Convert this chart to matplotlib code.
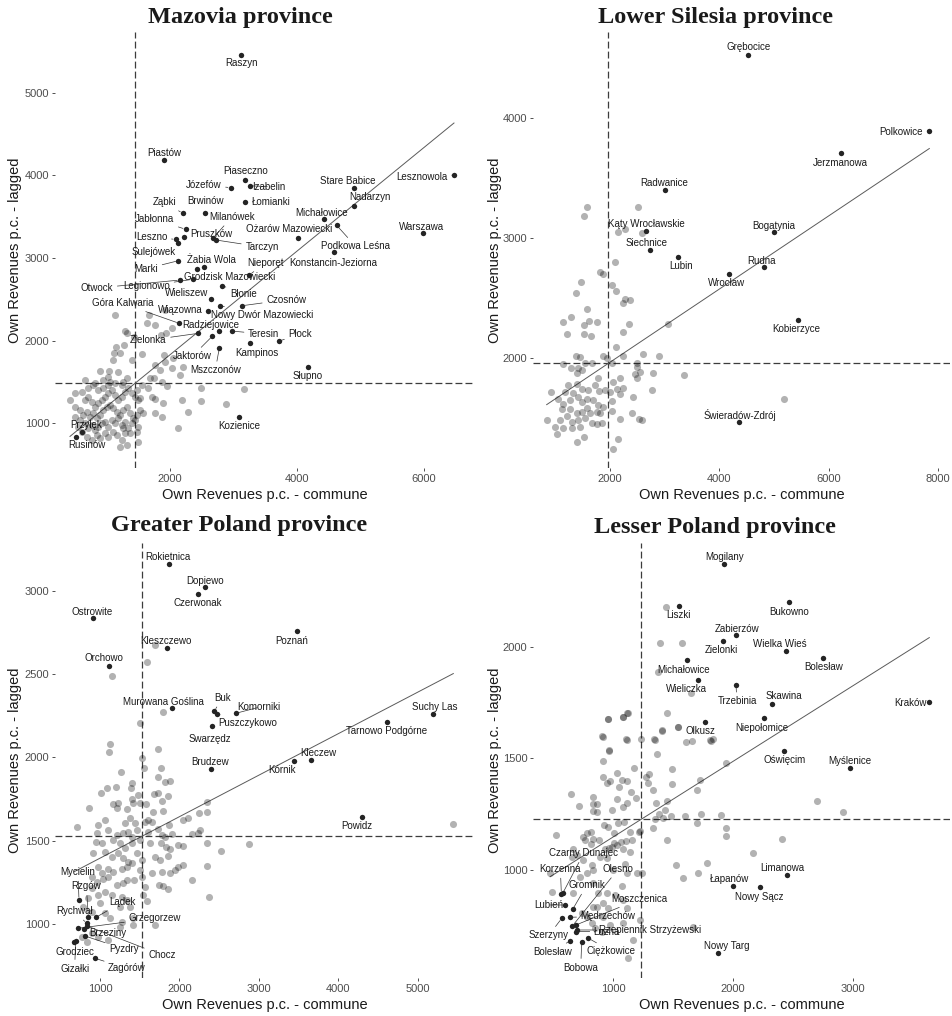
"""Four-panel scatter: own revenues p.c. (commune) vs spatially lagged, by province."""

import matplotlib

matplotlib.use("Agg")

import matplotlib.pyplot as plt
import numpy as np

plt.rcParams["font.family"] = ["Liberation Sans", "DejaVu Sans"]

# ---------------------------------------------------------------- Mazovia
maz_names = ["Raszyn", "Piastów", "Piaseczno", "Józefów", "Izabelin", "Łomianki",
             "Stare Babice", "Lesznowola", "Nadarzyn", "Ząbki", "Brwinów", "Milanówek",
             "Michałowice", "Warszawa", "Jabłonna", "Pruszków", "Ożarów Mazowiecki",
             "Podkowa Leśna", "Tarczyn", "Leszno", "Sulejówek", "Konstancin-Jeziorna",
             "Żabia Wola", "Marki", "Nieporęt", "Grodzisk Mazowiecki", "Legionowo",
             "Otwock", "Błonie", "Wieliszew", "Czosnów", "Nowy Dwór Mazowiecki",
             "Wiązowna", "Góra Kalwaria", "Radziejowice", "Zielonka", "Teresin",
             "Jaktorów", "Mszczonów", "Kampinos", "Płock", "Słupno", "Kozienice",
             "Przyłęk", "Rusinów"]
maz_x = [3123, 1910, 3181, 2956, 3255, 3186, 4898, 6473, 4898, 2200, 2546, 2677,
         4426, 5980, 2247, 2225, 4011, 4625, 2725, 2090, 2131, 4583, 2536, 2131,
         3249, 2420, 2357, 2157, 2824, 2650, 3139, 2788, 2603, 2146, 2776, 2446,
         2972, 2669, 2776, 3260, 3721, 4178, 3087, 609, 515]
maz_y = [5460, 4184, 3945, 3852, 3876, 3679, 3845, 4006, 3630, 3542, 3542, 3242,
         3472, 3306, 3348, 3258, 3239, 3396, 3218, 3226, 3178, 3076, 2894, 2967,
         2794, 2863, 2742, 2733, 2664, 2503, 2422, 2422, 2361, 2208, 2115, 2087,
         2115, 2054, 1905, 1973, 1994, 1682, 1076, 895, 827]
maz_gray_x = [1134, 1292, 1318, 1433, 1675, 1922, 1764, 1859, 1937, 2027, 1643, 1281,
              1145, 1124, 1213, 1108, 1397, 1565, 1906, 1927, 2053, 1764, 1843, 2037,
              2210, 2158, 898, 1045, 1019, 1176, 1265, 1318, 662, 793, 950, 1055, 1685,
              1754, 1869, 1948, 2489, 3171, 2877, 2489, 2184, 2279, 2132, 1895, 1869,
              1764, 1580, 1712, 1764, 1528, 1475, 1565, 1659,
              504, 583, 662, 714, 767, 819, 872, 924, 977, 1029, 1082, 1134, 1187, 1239,
              1292, 1344, 1397, 1449, 1502, 504, 583, 635, 688, 740, 793, 845, 898, 950,
              1003, 1055, 1108, 1160, 1213, 1265, 1318, 1370, 1423, 1475, 1528,
              557, 609, 662, 714, 767, 819, 872, 924, 977, 1029, 1082, 1134, 1187, 1239,
              1292, 1344, 1397, 1449, 1502, 688, 767, 845, 898, 977, 1029, 1108, 1160,
              1239, 1292, 1213, 1318, 1265, 1370, 1502, 1475, 714, 872, 950, 1134, 1239,
              1029, 819, 609, 504, 425]
maz_gray_y = [2309, 2119, 2087, 2047, 2309, 2370, 2188, 2067, 2087, 2148, 2216, 1946,
              1925, 1845, 1845, 1764, 1764, 1837, 1824, 1744, 1784, 1703, 1643, 1663,
              1683, 1582, 1635, 1635, 1554, 1622, 1501, 1542, 1521, 1461, 1521, 1501, 1542,
              1542, 1501, 1449, 1420, 1408, 1231, 1271, 1279, 1138, 944, 1247, 1077,
              1117, 1117, 1319, 1291, 1299, 1400, 1461, 1420,
              1198, 1158, 1279, 1319, 1259, 1198, 1239, 1279, 1319, 1360, 1400, 1340, 1279,
              1319, 1380, 1420, 1360, 1319, 1279, 1077, 1037, 1097, 1138, 1077, 1117, 1057,
              1097, 1158, 1198, 1218, 1178, 1138, 1097, 1158, 1198, 1117, 1057, 1097, 1158,
              956, 895, 996, 936, 976, 915, 956, 996, 1016, 956, 1037, 996, 1057, 976,
              1016, 936, 996, 1037, 956, 835, 794, 855, 814, 875, 835, 895, 855,
              794, 875, 713, 734, 936, 875, 774, 895, 1420, 1400, 1420, 1481, 1461,
              1461, 1481, 1380, 1360, 1279]
maz_mean = (1449, 1481)
maz_fit = (0.628, 571)
maz_xticks = [2000, 4000, 6000]
maz_yticks = [1000, 2000, 3000, 4000, 5000]
maz_lim = ((189, 6804), (455, 5739))

# ---------------------------------------------------------- Lower Silesia
dol_names = ["Grębocice", "Polkowice", "Jerzmanowa", "Radwanice", "Kąty Wrocławskie",
             "Bogatynia", "Siechnice", "Lubin", "Rudna", "Wrocław", "Kobierzyce",
             "Świeradów-Zdrój"]
dol_x = [4528, 7837, 6217, 3011, 2658, 4998, 2731, 3249, 4821, 4181, 5431, 4364]
dol_y = [4527, 3896, 3713, 3402, 3060, 3055, 2902, 2847, 2764, 2703, 2319, 1467]
dol_gray_x = [1573, 1524, 2505, 2152, 2274, 2578, 2091, 1817, 1865, 1469, 1378, 2030,
              2109, 2274, 2365, 2243, 1573, 1281, 1147, 1530, 1616, 1756, 2353, 3066,
              1220, 1524, 1646, 2243, 2109, 1372, 1451, 1878, 1939, 2231, 2609, 2901,
              1147, 1281, 1421, 1543, 1664, 2030, 2487, 2487, 2792, 3358, 1402, 1482,
              2182, 2457, 2548, 2487, 2060, 1786, 1725, 1603, 1805, 1908, 2000, 2121,
              2243, 2030, 2182, 1390, 1482, 1238, 1177, 915, 1055, 1147, 1268, 1329,
              1421, 1482, 1573, 1695, 1786, 1878, 1116, 1268, 1390, 1482, 1573, 1634,
              1756, 1817, 1086, 1207, 1299, 1421, 1543, 1664, 1756, 1847, 2030, 2182,
              2396, 2536, 2761, 2426, 842, 994, 1147, 1299, 1451,
              1037, 1391, 1530, 2049, 2152, 2579, 5186]
dol_gray_y = [3258, 3186, 3258, 3055, 3075, 3041, 2805, 2722, 2703, 2633, 2541, 2611,
              2564, 2491, 2486, 2464, 2408, 2341, 2305, 2278, 2314, 2300, 2286, 2286,
              2203, 2203, 2186, 2222, 2097, 2019, 2014, 2019, 2000, 2019, 2036, 2019,
              1950, 1917, 1917, 1958, 1964, 1964, 1958, 1931, 1881, 1861, 1881, 1903,
              1833, 1869, 1889, 1833, 1806, 1833, 1778, 1736, 1731, 1736, 1722, 1742,
              1756, 1647, 1703, 1786, 1742, 1778, 1722, 1722, 1658, 1620, 1653, 1708,
              1681, 1639, 1658, 1653, 1611, 1597, 1575, 1575, 1547, 1556, 1583, 1542,
              1556, 1542, 1486, 1520, 1472, 1486, 1500, 1458, 1453, 1458, 1564, 1492,
              1542, 1492, 1736, 1681, 1486, 1431, 1417, 1417, 1425,
              1369, 1305, 1347, 1247, 1325, 1486, 1658]
dol_mean = (1969, 1958)
dol_fit = (0.305, 1357)
dol_xticks = [2000, 4000, 6000, 8000]
dol_yticks = [2000, 3000, 4000]
dol_lim = ((592, 8215), (1086, 4718))

# ---------------------------------------------------------- Greater Poland
wlkp_names = ["Rokietnica", "Dopiewo", "Czerwonak", "Ostrowite", "Poznań", "Kleszczewo",
              "Orchowo", "Murowana Goślina", "Buk", "Komorniki", "Puszczykowo",
              "Swarzędz", "Brudzew", "Kórnik", "Kleczew", "Suchy Las",
              "Tarnowo Podgórne", "Powidz", "Mycielin", "Rzgów", "Lądek", "Rychwał",
              "Grzegorzew", "Brzeziny", "Pyzdry", "Chocz", "Grodziec", "Gizałki",
              "Zagórów"]
wlkp_x = [1873, 2322, 2238, 916, 3476, 1840, 1117, 1910, 2439, 2708, 2477, 2414, 2393,
          3446, 3656, 5196, 4617, 4295, 735, 853, 949, 832, 718, 802, 811, 836, 676,
          693, 937]
wlkp_y = [3160, 3020, 2980, 2834, 2758, 2654, 2550, 2294, 2278, 2264, 2260, 2190, 1928,
          1980, 1984, 2260, 2214, 1640, 1144, 1040, 1040, 1004, 974, 968, 928, 988, 894,
          900, 794]
wlkp_gray_x = [1587, 1147, 1789, 1503, 1126, 1113, 1726, 1524, 1558, 1768, 1734, 1818,
               1881, 1264, 1084, 1012, 1201, 1407, 1482, 1390, 1680, 1726, 1776, 1852,
               1503, 1407, 1419, 1167, 1230, 1209, 861, 1335, 1575, 1671, 1789, 2343,
               2246, 2351, 2049, 2103, 1868, 1650, 1608, 1566, 1440, 1377, 1314, 1063,
               979, 706, 958, 1105, 1209, 1293, 1356, 1461, 1398, 1608, 1734, 1776, 1818,
               1902, 2162, 2229, 2259, 945, 1021, 1167, 1251, 1314, 1407, 1503, 1629,
               1768, 1831, 1881, 1986, 2049, 2343, 2523, 2876, 916, 1063, 1147, 1230,
               1293, 1356, 1461, 1524, 1692, 1755, 1860, 1986, 2049, 2343, 979, 1021,
               1105, 1167, 1272, 1335, 1398, 1503, 1650, 1776, 1881, 1944, 2162, 895,
               958, 1042, 1105, 1209, 1293, 1335, 1432, 1533, 1566, 1742, 1797, 1860,
               2372, 895, 979, 1063, 1147, 1272, 1335, 1251, 1377, 1545, 1587, 1000, 853,
               790, 895, 1063, 1126, 1272, 1419, 1419, 1251, 1692, 895, 979, 1105, 832,
               769, 1692, 5448]
wlkp_gray_y = [2574, 2488, 2274, 2208, 2080, 2030, 2048, 1994, 1934, 1934, 1884, 1854,
               1860, 1914, 1818, 1788, 1820, 1844, 1774, 1814, 1780, 1784, 1740, 1768,
               1728, 1748, 1728, 1720, 1724, 1694, 1698, 1688, 1720, 1674, 1680, 1734,
               1668, 1674, 1624, 1634, 1594, 1614, 1624, 1614, 1604, 1634, 1604, 1624,
               1594, 1584, 1548, 1564, 1534, 1544, 1554, 1564, 1524, 1554, 1568, 1534,
               1520, 1540, 1538, 1548, 1564, 1494, 1488, 1504, 1484, 1454, 1488, 1504,
               1484, 1484, 1464, 1448, 1474, 1468, 1488, 1440, 1480, 1424, 1434, 1404,
               1424, 1394, 1374, 1424, 1384, 1404, 1384, 1408, 1344, 1354, 1348, 1344,
               1304, 1328, 1314, 1328, 1344, 1364, 1324, 1308, 1314, 1304, 1324, 1264,
               1284, 1254, 1268, 1280, 1234, 1244, 1264, 1264, 1280, 1224, 1234, 1228,
               1208, 1164, 1214, 1174, 1194, 1174, 1164, 1144, 1104, 1104, 1174, 1140,
               1124, 1154, 1104, 1074, 1064, 1034, 1014, 1034, 994, 984, 994, 944, 924,
               904, 894, 924, 2674, 1598]
wlkp_mean = (1533, 1528)
wlkp_fit = (0.249, 1146)
wlkp_xticks = [1000, 2000, 3000, 4000, 5000]
wlkp_yticks = [1000, 1500, 2000, 2500, 3000]
wlkp_lim = ((433, 5721), (676, 3286))

# ----------------------------------------------------------- Lesser Poland
mlp_names = ["Mogilany", "Liszki", "Bukowno", "Zabierzów", "Zielonki", "Wielka Wieś",
             "Bolesław", "Kraków", "Michałowice", "Wieliczka", "Trzebinia", "Skawina",
             "Olkusz", "Niepołomice", "Oświęcim", "Myślenice", "Limanowa", "Łapanów",
             "Nowy Sącz", "Nowy Targ", "Czarny Dunajec", "Korzenna", "Olesno", "Gromnik",
             "Lubień", "Moszczenica", "Mędrzechów", "Szerzyny", "Łużna",
             "Rzepiennik Strzyżewski", "Bolesław", "Ciężkowice", "Bobowa"]
mlp_x = [1927, 1546, 2470, 2025, 1919, 2445, 2749, 3640, 1618, 1710, 2025, 2328, 1769,
         2261, 2429, 2977, 2454, 1998, 2223, 1878, 577, 566, 658, 661, 597, 686, 639,
         569, 689, 694, 639, 792, 736]
mlp_y = [2369, 2181, 2199, 2054, 2027, 1981, 1951, 1754, 1942, 1851, 1827, 1742, 1664,
         1681, 1534, 1458, 977, 930, 925, 627, 895, 892, 749, 824, 843, 753, 788, 783,
         724, 731, 683, 694, 679]
mlp_gray_x = [519, 644, 717, 750, 778, 814, 834, 828, 867, 828, 867, 926, 959, 1006,
              1042, 1090, 1140, 1224, 987, 1034, 1084, 1118, 1148, 1190, 917, 945, 973,
              1029, 1070, 1112, 1051, 912, 965, 912, 959, 1084, 1118, 1173, 1112, 1405,
              1544, 1605, 1655, 1814, 1836, 1235, 1349, 1363, 1274, 1299, 1293, 1335,
              1491, 1491, 1357, 1452, 1435, 1385, 1352, 1329, 1418, 1483, 1599, 1697,
              1730, 1897, 1939, 1939, 1452, 1218, 1154, 1107, 1062, 1006, 967, 931, 884,
              834, 811, 764, 667, 653, 700, 750, 820, 834, 889, 945, 987, 1029, 1084,
              1140, 995, 1070, 1098, 1201, 1237, 1524, 1580, 1708, 1781, 2170, 2407,
              1118, 485, 472, 667, 722, 778, 834, 875, 945, 1015, 917, 834, 861, 959,
              1084, 1112, 1224, 1168, 1126, 1664, 917, 778, 736, 820, 1084, 848, 903,
              973, 1440, 1390, 1576, 1376, 1649, 958, 1084, 1120, 1446, 1404, 1543, 908,
              1106, 1343, 1806, 964, 1939, 1696, 1724, 2699, 2922]
mlp_gray_y = [1157, 1340, 1288, 1149, 1164, 1172, 1328, 1295, 1295, 1266, 1261, 1201,
              1191, 1167, 1212, 1216, 1172, 1176, 1269, 1316, 1284, 1301, 1351, 1321,
              1415, 1388, 1400, 1433, 1403, 1400, 1370, 1487, 1534, 1597, 1675, 1684,
              1702, 1455, 1582, 1624, 1642, 1575, 1578, 1579, 1587, 1585, 1582, 1518,
              1415, 1430, 1391, 1358, 1454, 1385, 1298, 1307, 1269, 1251, 1227, 1186,
              1231, 1242, 1242, 1212, 1251, 1246, 1186, 1152, 1134, 1172, 1134, 1131,
              1127, 1119, 1097, 1092, 1134, 1137, 1116, 1134, 1092, 1060, 1067, 1045,
              1022, 1000, 1060, 1052, 1104, 1112, 1092, 1082, 1000, 928, 1027, 985, 988,
              1021, 966, 988, 1033, 1074, 1140, 985, 903, 985, 895, 970, 985, 940, 895,
              895, 888, 851, 836, 836, 828, 866, 828, 776, 686, 604, 746, 791, 791, 806,
              761, 761, 739, 724, 753, 2179, 2015, 2015, 1885, 1791, 1676, 1686, 1704,
              1704, 1627, 1642, 1600, 1585, 1585, 1580, 1537, 1478, 1358, 1403, 1309,
              1261]
mlp_mean = (1234, 1227)
mlp_fit = (0.338, 810)
mlp_xticks = [1000, 2000, 3000]
mlp_yticks = [1000, 1500, 2000]
mlp_lim = ((329, 3813), (516, 2464))

# label offsets in pixels (dx right, dy up) from each labelled commune
maz_offsets = [(0, -8), (0, 7), (1, 9), (-27, 3), (19, -1), (26, 0), (-6, 7), (-32, -2),
               (16, 9), (-18, 11), (1, 12), (19, 21), (-2, 6), (-1, 6), (-31, 10), (27, 3),
               (-9, 9), (19, -21), (46, -7), (-24, 2), (-25, -9), (-1, -11), (7, 7),
               (-32, -8), (16, 12), (33, -8), (-46, -7), (-83, -8), (21, -8), (-25, 6),
               (44, 6), (42, -9), (-28, 1), (-57, 20), (-9, 6), (-50, -7), (32, -3),
               (-20, -20), (-4, -22), (7, -10), (21, 7), (-1, -9), (0, -9), (4, 7),
               (11, -8)]
dol_offsets = [(0, 8), (-28, -1), (0, -10), (-1, 7), (0, 7), (0, 6), (-3, 7), (3, -9),
               (-3, 6), (-3, -9), (-1, -9), (1, 7)]
wlkp_offsets = [(-1, 7), (0, 6), (-1, -9), (-1, 6), (-5, -10), (-1, 7), (-5, 8), (-9, 6),
                (8, 13), (23, 6), (30, -9), (-2, -13), (-1, 7), (-12, -9), (7, 7), (1, 7),
                (-1, -9), (-5, -9), (-1, 28), (-2, 31), (26, 15), (-12, 12), (77, 10),
                (24, -4), (39, -13), (75, -29), (1, -10), (-1, -28), (32, -10)]
mlp_offsets = [(0, 7), (0, -9), (0, -10), (1, 6), (-2, -9), (-6, 7), (1, -9), (-19, -1),
               (-4, -10), (-12, -9), (1, -16), (12, 8), (-5, -9), (-2, -10), (0, -9),
               (0, 7), (-5, 7), (-3, 7), (0, -10), (8, 7), (21, 40), (-1, 25), (46, 57),
               (14, 24), (-16, 0), (64, 26), (38, 1), (-13, -17), (31, 0), (73, 0),
               (-17, -11), (23, -13), (-1, -26)]

W, H = 953, 1016
TICK_COLOR = "#4d4d4d"
XLAB = "Own Revenues p.c. - commune"
YLAB = "Own Revenues p.c. - lagged"


def draw_panel(ax, names, xs, ys, gx, gy, offsets, mean, fit, xticks, yticks, lim):
    ax.scatter(gx, gy, s=26, c="black", alpha=0.3, linewidths=0, zorder=4)
    ax.scatter(xs, ys, s=15, c="#242424", linewidths=0, zorder=5)
    dash = (0, (5.5, 2.5))
    ax.axvline(mean[0], color="#3c3c3c", lw=0.9, ls=dash, zorder=1)
    ax.axhline(mean[1], color="#3c3c3c", lw=0.9, ls=dash, zorder=1)
    allx = np.concatenate([xs, gx])
    line_x = np.array([allx.min(), allx.max()])
    ax.plot(line_x, fit[1] + fit[0] * line_x, color="#5a5a5a", lw=0.7, zorder=2)
    for name, x, y, (dx, dy) in zip(names, xs, ys, offsets):
        arrow = None
        if np.hypot(dx, dy) > 14:
            arrow = dict(arrowstyle="-", color="#333333", lw=0.5, shrinkA=1, shrinkB=2)
        ax.annotate(name, (x, y), xytext=(dx, dy), textcoords="offset pixels",
                    ha="center", va="center", fontsize=7, color="#1a1a1a",
                    zorder=3, arrowprops=arrow)
    ax.set_xlim(*lim[0])
    ax.set_ylim(*lim[1])
    ax.set_xticks(xticks)
    ax.set_yticks(yticks)
    ax.tick_params(labelsize=8, labelcolor=TICK_COLOR, color="#333333",
                   length=2.5, width=0.6, pad=1.5)
    for sp in ax.spines.values():
        sp.set_visible(False)


fig = plt.figure(figsize=(W / 100, H / 100), dpi=100)
fig.patch.set_facecolor("white")

# (left, right, top, bottom) of each plotting area, in pixels
panels = [
    ("Mazovia province", (55, 475, 32, 468), 240, 17,
     maz_names, maz_x, maz_y, maz_gray_x, maz_gray_y, maz_offsets,
     maz_mean, maz_fit, maz_xticks, maz_yticks, maz_lim),
    ("Lower Silesia province", (533, 950, 32, 468), 716, 17,
     dol_names, dol_x, dol_y, dol_gray_x, dol_gray_y, dol_offsets,
     dol_mean, dol_fit, dol_xticks, dol_yticks, dol_lim),
    ("Greater Poland province", (55, 475, 543, 978), 239, 526,
     wlkp_names, wlkp_x, wlkp_y, wlkp_gray_x, wlkp_gray_y, wlkp_offsets,
     wlkp_mean, wlkp_fit, wlkp_xticks, wlkp_yticks, wlkp_lim),
    ("Lesser Poland province", (533, 950, 543, 978), 715, 527,
     mlp_names, mlp_x, mlp_y, mlp_gray_x, mlp_gray_y, mlp_offsets,
     mlp_mean, mlp_fit, mlp_xticks, mlp_yticks, mlp_lim),
]

for (title, (l, r, t, b), tx, ty, names, xs, ys, gx, gy, offs,
     mean, fit, xt, yt, lim) in panels:
    ax = fig.add_axes([l / W, 1 - b / H, (r - l) / W, (b - t) / H])
    ax.set_facecolor("white")
    draw_panel(ax, names, np.asarray(xs, float), np.asarray(ys, float),
               np.asarray(gx, float), np.asarray(gy, float), offs,
               mean, fit, xt, yt, lim)
    ax.set_xlabel(XLAB, fontsize=10.5, color="#1a1a1a", va="center")
    ax.xaxis.set_label_coords(0.5, (b - (b + 27)) / (b - t))
    ax.set_ylabel(YLAB, fontsize=10.5, color="#1a1a1a", va="center")
    ax.yaxis.set_label_coords((l - 40 - l) / (r - l) if l < 100 else (495 - l) / (r - l), 0.5)
    fig.text(tx / W, 1 - ty / H, title, ha="center", va="center",
             fontsize=17.5, fontweight="bold", family="Liberation Serif",
             color="#1a1a1a")

fig.savefig("out.png", dpi=100, facecolor="white")
